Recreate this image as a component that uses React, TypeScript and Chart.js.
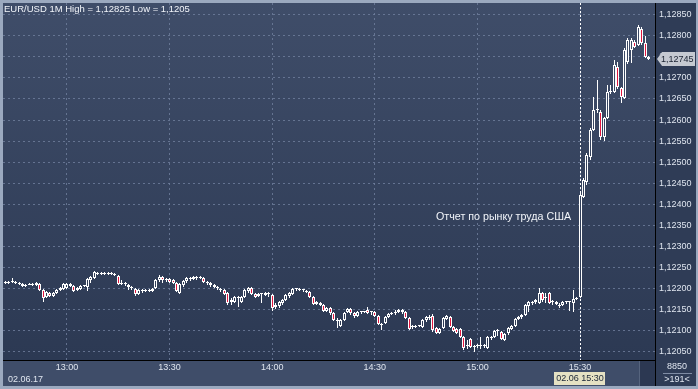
import React, { useEffect, useRef } from "react";
import { Chart, registerables } from "chart.js";

Chart.register(...registerables);

// ---------- data ----------
// minute index of the first bar, counted from 12:00 (12:41)
const firstMinute = 41;

const opens = [
  1.12213, 1.12213, 1.12213, 1.12215, 1.12215, 1.12213, 1.12211, 1.12206, 1.12208, 1.12211,
  1.12208, 1.12211, 1.12196, 1.12180, 1.12189, 1.12182, 1.12189, 1.12196, 1.12199, 1.12201,
  1.12206, 1.12206, 1.12196, 1.12199, 1.12206, 1.12204, 1.12220, 1.12225, 1.12237, 1.12234,
  1.12237, 1.12237, 1.12234, 1.12234, 1.12230, 1.12211, 1.12213, 1.12208, 1.12204, 1.12199,
  1.12187, 1.12196, 1.12194, 1.12196, 1.12194, 1.12201, 1.12220, 1.12227, 1.12220, 1.12223,
  1.12220, 1.12213, 1.12189, 1.12208, 1.12218, 1.12225, 1.12223, 1.12227, 1.12225, 1.12225,
  1.12215, 1.12213, 1.12208, 1.12204, 1.12199, 1.12196, 1.12189, 1.12168, 1.12168, 1.12177,
  1.12168, 1.12180, 1.12194, 1.12201, 1.12187, 1.12182, 1.12187, 1.12185, 1.12187, 1.12185,
  1.12156, 1.12158, 1.12166, 1.12173, 1.12182, 1.12187, 1.12199, 1.12199, 1.12196, 1.12194,
  1.12192, 1.12180, 1.12163, 1.12166, 1.12161, 1.12147, 1.12154, 1.12142, 1.12123, 1.12111,
  1.12125, 1.12144, 1.12151, 1.12142, 1.12135, 1.12144, 1.12144, 1.12149, 1.12144, 1.12144,
  1.12135, 1.12113, 1.12118, 1.12132, 1.12140, 1.12142, 1.12144, 1.12149, 1.12144, 1.12130,
  1.12109, 1.12109, 1.12111, 1.12109, 1.12125, 1.12130, 1.12135, 1.12106, 1.12094, 1.12106,
  1.12128, 1.12132, 1.12109, 1.12104, 1.12104, 1.12085, 1.12066, 1.12080, 1.12064, 1.12064,
  1.12064, 1.12064, 1.12059, 1.12085, 1.12085, 1.12099, 1.12097, 1.12078, 1.12094, 1.12104,
  1.12111, 1.12128, 1.12132, 1.12137, 1.12158, 1.12166, 1.12168, 1.12166, 1.12189, 1.12177,
  1.12189, 1.12168, 1.12168, 1.12161, 1.12161, 1.12168, 1.12168, 1.12166, 1.12175, 1.12180,
  1.12417, 1.12453, 1.12512, 1.12576, 1.12624, 1.12619, 1.12560, 1.12605, 1.12667, 1.12667,
  1.12726, 1.12676, 1.12652, 1.12738, 1.12766, 1.12785, 1.12778, 1.12816, 1.12783, 1.12750,
];

const highs = [
  1.12215, 1.12218, 1.12218, 1.12225, 1.12218, 1.12215, 1.12213, 1.12211, 1.12213, 1.12213,
  1.12215, 1.12213, 1.12199, 1.12194, 1.12192, 1.12192, 1.12199, 1.12204, 1.12213, 1.12213,
  1.12213, 1.12208, 1.12204, 1.12208, 1.12208, 1.12225, 1.12230, 1.12242, 1.12239, 1.12239,
  1.12239, 1.12239, 1.12239, 1.12237, 1.12232, 1.12220, 1.12215, 1.12211, 1.12206, 1.12201,
  1.12199, 1.12199, 1.12199, 1.12199, 1.12201, 1.12223, 1.12232, 1.12230, 1.12225, 1.12225,
  1.12223, 1.12215, 1.12213, 1.12220, 1.12227, 1.12227, 1.12230, 1.12230, 1.12230, 1.12227,
  1.12218, 1.12215, 1.12211, 1.12206, 1.12201, 1.12199, 1.12192, 1.12177, 1.12182, 1.12182,
  1.12182, 1.12199, 1.12204, 1.12204, 1.12189, 1.12189, 1.12189, 1.12192, 1.12192, 1.12187,
  1.12166, 1.12170, 1.12175, 1.12187, 1.12192, 1.12201, 1.12201, 1.12201, 1.12199, 1.12196,
  1.12194, 1.12182, 1.12170, 1.12168, 1.12163, 1.12156, 1.12156, 1.12144, 1.12130, 1.12128,
  1.12144, 1.12154, 1.12154, 1.12144, 1.12147, 1.12147, 1.12147, 1.12156, 1.12147, 1.12147,
  1.12137, 1.12118, 1.12135, 1.12142, 1.12144, 1.12149, 1.12151, 1.12151, 1.12147, 1.12132,
  1.12113, 1.12113, 1.12113, 1.12128, 1.12135, 1.12137, 1.12140, 1.12109, 1.12106, 1.12132,
  1.12137, 1.12135, 1.12111, 1.12106, 1.12106, 1.12087, 1.12078, 1.12083, 1.12066, 1.12068,
  1.12085, 1.12068, 1.12087, 1.12087, 1.12102, 1.12104, 1.12099, 1.12094, 1.12109, 1.12113,
  1.12130, 1.12135, 1.12140, 1.12163, 1.12170, 1.12170, 1.12175, 1.12201, 1.12192, 1.12189,
  1.12192, 1.12173, 1.12170, 1.12166, 1.12170, 1.12170, 1.12170, 1.12196, 1.12180, 1.12427,
  1.12462, 1.12522, 1.12581, 1.12655, 1.12695, 1.12624, 1.12607, 1.12683, 1.12683, 1.12742,
  1.12738, 1.12678, 1.12771, 1.12794, 1.12794, 1.12790, 1.12825, 1.12821, 1.12799, 1.12752,
];

const lows = [
  1.12211, 1.12211, 1.12211, 1.12213, 1.12211, 1.12208, 1.12204, 1.12204, 1.12208, 1.12206,
  1.12206, 1.12194, 1.12168, 1.12177, 1.12180, 1.12180, 1.12187, 1.12194, 1.12196, 1.12199,
  1.12204, 1.12192, 1.12194, 1.12196, 1.12204, 1.12194, 1.12213, 1.12223, 1.12232, 1.12232,
  1.12232, 1.12232, 1.12232, 1.12230, 1.12208, 1.12208, 1.12206, 1.12196, 1.12196, 1.12182,
  1.12185, 1.12189, 1.12192, 1.12192, 1.12192, 1.12199, 1.12215, 1.12213, 1.12215, 1.12213,
  1.12211, 1.12192, 1.12187, 1.12204, 1.12213, 1.12218, 1.12220, 1.12220, 1.12223, 1.12213,
  1.12208, 1.12204, 1.12201, 1.12196, 1.12192, 1.12185, 1.12161, 1.12161, 1.12166, 1.12156,
  1.12166, 1.12177, 1.12189, 1.12185, 1.12177, 1.12180, 1.12166, 1.12182, 1.12180, 1.12147,
  1.12151, 1.12154, 1.12161, 1.12170, 1.12177, 1.12185, 1.12194, 1.12194, 1.12192, 1.12189,
  1.12177, 1.12161, 1.12161, 1.12158, 1.12144, 1.12144, 1.12137, 1.12123, 1.12106, 1.12109,
  1.12123, 1.12142, 1.12137, 1.12130, 1.12132, 1.12140, 1.12142, 1.12140, 1.12137, 1.12132,
  1.12113, 1.12102, 1.12116, 1.12130, 1.12137, 1.12137, 1.12142, 1.12140, 1.12128, 1.12102,
  1.12104, 1.12106, 1.12109, 1.12106, 1.12121, 1.12125, 1.12097, 1.12092, 1.12092, 1.12104,
  1.12125, 1.12106, 1.12097, 1.12092, 1.12083, 1.12054, 1.12056, 1.12059, 1.12050, 1.12059,
  1.12056, 1.12059, 1.12056, 1.12078, 1.12083, 1.12087, 1.12078, 1.12075, 1.12090, 1.12102,
  1.12109, 1.12125, 1.12128, 1.12135, 1.12144, 1.12161, 1.12163, 1.12163, 1.12168, 1.12166,
  1.12163, 1.12161, 1.12161, 1.12154, 1.12158, 1.12163, 1.12147, 1.12144, 1.12173, 1.12177,
  1.12415, 1.12446, 1.12505, 1.12574, 1.12617, 1.12553, 1.12550, 1.12602, 1.12662, 1.12664,
  1.12673, 1.12640, 1.12650, 1.12733, 1.12735, 1.12771, 1.12776, 1.12778, 1.12747, 1.12742,
];

const closes = [
  1.12213, 1.12213, 1.12215, 1.12215, 1.12213, 1.12211, 1.12206, 1.12208, 1.12211, 1.12208,
  1.12213, 1.12196, 1.12177, 1.12192, 1.12182, 1.12189, 1.12196, 1.12201, 1.12211, 1.12211,
  1.12211, 1.12194, 1.12201, 1.12206, 1.12206, 1.12223, 1.12227, 1.12239, 1.12234, 1.12237,
  1.12234, 1.12234, 1.12237, 1.12232, 1.12211, 1.12213, 1.12211, 1.12204, 1.12201, 1.12187,
  1.12196, 1.12194, 1.12196, 1.12194, 1.12199, 1.12220, 1.12227, 1.12220, 1.12223, 1.12215,
  1.12213, 1.12194, 1.12211, 1.12218, 1.12225, 1.12223, 1.12227, 1.12225, 1.12227, 1.12215,
  1.12213, 1.12208, 1.12204, 1.12201, 1.12196, 1.12187, 1.12166, 1.12173, 1.12180, 1.12177,
  1.12180, 1.12196, 1.12201, 1.12187, 1.12180, 1.12187, 1.12187, 1.12189, 1.12187, 1.12154,
  1.12161, 1.12168, 1.12173, 1.12185, 1.12189, 1.12199, 1.12199, 1.12196, 1.12196, 1.12192,
  1.12180, 1.12163, 1.12168, 1.12161, 1.12147, 1.12154, 1.12142, 1.12125, 1.12123, 1.12125,
  1.12142, 1.12151, 1.12142, 1.12135, 1.12144, 1.12144, 1.12144, 1.12142, 1.12144, 1.12135,
  1.12116, 1.12113, 1.12132, 1.12140, 1.12142, 1.12142, 1.12149, 1.12144, 1.12130, 1.12104,
  1.12109, 1.12111, 1.12111, 1.12125, 1.12132, 1.12132, 1.12102, 1.12094, 1.12104, 1.12130,
  1.12135, 1.12109, 1.12099, 1.12094, 1.12085, 1.12059, 1.12064, 1.12061, 1.12061, 1.12064,
  1.12064, 1.12064, 1.12085, 1.12083, 1.12099, 1.12099, 1.12080, 1.12092, 1.12106, 1.12111,
  1.12128, 1.12132, 1.12137, 1.12161, 1.12168, 1.12168, 1.12173, 1.12189, 1.12173, 1.12180,
  1.12166, 1.12168, 1.12163, 1.12158, 1.12168, 1.12168, 1.12168, 1.12175, 1.12177, 1.12422,
  1.12458, 1.12517, 1.12576, 1.12624, 1.12624, 1.12560, 1.12605, 1.12667, 1.12667, 1.12731,
  1.12678, 1.12655, 1.12766, 1.12790, 1.12790, 1.12773, 1.12821, 1.12783, 1.12750, 1.12745,
];

const minutes = opens.map((_, i) => firstMinute + i);

const xTickMinutes = [60, 90, 120, 150, 180, 210];
const xTickLabels = ["13:00", "13:30", "14:00", "14:30", "15:00", "15:30"];
const yTickValues = [
  1.1205, 1.121, 1.1215, 1.122, 1.1225, 1.123, 1.1235, 1.124, 1.1245,
  1.125, 1.1255, 1.126, 1.1265, 1.127, 1.1275, 1.128, 1.1285,
];

const titleText = "EUR/USD 1M High = 1,12825 Low = 1,1205";
const eventText = "Отчет по рынку труда США";
const eventMinute = 210;
const eventTextPrice = 1.12369;
const lastPrice = 1.12745;
const dateLabel = "02.06.17";
const cursorLabel = "02.06 15:30";
const volumeLabel = "8850";
const barsLabel = ">191<";

// ---------- style ----------
const W = 698;
const H = 389;
const FONT = '"Liberation Sans", Arial, sans-serif';
const TEXT = "#dfe5ef";
const PLOT_TOP = "#3f4d69";
const PLOT_BOTTOM = "#2c3953";
const GRID = "rgba(112,128,158,0.8)";
const RED = "#e2173f";

const fmt = (v: number) => v.toFixed(5).replace(".", ",");

export default function App() {
  const ref = useRef<HTMLCanvasElement | null>(null);

  useEffect(() => {
    const canvas = ref.current;
    if (!canvas) return;
    const ctx0 = canvas.getContext("2d")!;
    const bodyFill = ctx0.createLinearGradient(0, 3, 0, 360);
    bodyFill.addColorStop(0, PLOT_TOP);
    bodyFill.addColorStop(1, PLOT_BOTTOM);

    const snapPlugin = {
      id: "snapPlugin",
      afterDatasetsUpdate(chart: any) {
        chart.data.datasets.forEach((_: any, di: number) => {
          const meta = chart.getDatasetMeta(di);
          meta.data.forEach((el: any) => {
            el.x = Math.floor(el.x) + 0.5;
            let top = Math.round(Math.min(el.y, el.base));
            let bot = Math.round(Math.max(el.y, el.base));
            if (bot - top < 1) bot = top + 1;
            el.y = top;
            el.base = bot;
          });
        });
      },
    };

    const bgPlugin = {
      id: "bgPlugin",
      beforeDraw(chart: any) {
        const { ctx, chartArea: a } = chart;
        ctx.save();
        ctx.fillStyle = "#9ba9bf";
        ctx.fillRect(0, 0, W, H);
        const g = ctx.createLinearGradient(0, a.top, 0, a.bottom);
        g.addColorStop(0, PLOT_TOP);
        g.addColorStop(1, PLOT_BOTTOM);
        ctx.fillStyle = g;
        ctx.fillRect(a.left, a.top, a.right - a.left, a.bottom - a.top);
        // bottom time strip
        ctx.fillStyle = "#3f4d69";
        ctx.fillRect(a.left, a.bottom, a.right - a.left, 386 - a.bottom);
        ctx.fillStyle = "#2c3852";
        ctx.fillRect(640, a.bottom, a.right - 640, 386 - a.bottom);
        ctx.fillStyle = "#56647e";
        ctx.fillRect(639, a.bottom + 1, 1, 386 - a.bottom - 1);
        // right price panel
        ctx.fillStyle = "#2f3c56";
        ctx.fillRect(a.right, a.top, 696 - a.right, 386 - a.top);
        ctx.restore();
      },
      beforeDatasetsDraw(chart: any) {
        const { ctx, chartArea: a, scales } = chart;
        const x = Math.floor(scales.x.getPixelForValue(eventMinute)) + 0.5;
        ctx.save();
        ctx.strokeStyle = "#ffffff";
        ctx.lineWidth = 1;
        ctx.setLineDash([2, 2]);
        ctx.beginPath();
        ctx.moveTo(x, a.top);
        ctx.lineTo(x, a.bottom);
        ctx.stroke();
        ctx.restore();
      },
      afterDraw(chart: any) {
        const { ctx, chartArea: a, scales } = chart;
        ctx.save();
        // frame lines
        ctx.fillStyle = "#000000";
        ctx.fillRect(a.left, a.bottom, a.right - a.left, 1);
        ctx.fillRect(a.right, a.top, 1, 386 - a.top);

        // title
        ctx.fillStyle = "#f2f5fa";
        ctx.font = `9.5px ${FONT}`;
        ctx.textAlign = "left";
        ctx.textBaseline = "middle";
        ctx.fillText(titleText, a.left + 1, a.top + 6);

        // event annotation
        const ex = scales.x.getPixelForValue(eventMinute);
        ctx.font = `10.7px ${FONT}`;
        ctx.textAlign = "right";
        ctx.fillStyle = "#f2f5fa";
        ctx.fillText(eventText, ex - 9, scales.y.getPixelForValue(eventTextPrice));

        // last price tag
        const py = Math.round(scales.y.getPixelForValue(lastPrice));
        ctx.fillStyle = "#c5c9d1";
        ctx.beginPath();
        ctx.moveTo(a.right + 2, py);
        ctx.lineTo(a.right + 7, py - 7);
        ctx.lineTo(695, py - 7);
        ctx.lineTo(695, py + 7);
        ctx.lineTo(a.right + 7, py + 7);
        ctx.closePath();
        ctx.fill();
        ctx.fillStyle = "#1a2232";
        ctx.font = `9px ${FONT}`;
        ctx.textAlign = "left";
        ctx.fillText(fmt(lastPrice), a.right + 6, py + 0.5);

        // date on the time strip
        ctx.fillStyle = TEXT;
        ctx.font = `9px ${FONT}`;
        ctx.textAlign = "left";
        ctx.fillText(dateLabel, 8, 380);

        // cursor date box
        const bw = 51;
        ctx.fillStyle = "#e5e1c3";
        ctx.fillRect(Math.round(ex - 26), 372, bw, 13);
        ctx.fillStyle = "#1b2637";
        ctx.textAlign = "center";
        ctx.fillText(cursorLabel, ex, 379);

        // bottom-right info
        ctx.fillStyle = TEXT;
        ctx.fillText(volumeLabel, 677, 367);
        ctx.fillStyle = "#7f8ca4";
        ctx.fillRect(663, 373, 29, 1);
        ctx.fillStyle = TEXT;
        ctx.fillText(barsLabel, 677, 380);
        ctx.restore();
      },
    };

    const chart = new Chart(canvas, {
      type: "bar",
      data: {
        datasets: [
          {
            label: "bodies",
            data: minutes.map((m, i) => ({ x: m, y: [opens[i], closes[i]] })) as any,
            barThickness: 3,
            borderWidth: 1,
            borderColor: "#ffffff",
            borderSkipped: false,
            backgroundColor: (c: any) => {
              const i = c.dataIndex;
              if (i === undefined) return "#ffffff";
              return closes[i] < opens[i] ? RED : bodyFill;
            },
            grouped: false,
            minBarLength: 1,
            inflateAmount: 0,
            order: 0,
          } as any,
          {
            label: "wicks",
            data: minutes.map((m, i) => ({ x: m, y: [lows[i], highs[i]] })) as any,
            barThickness: 1,
            borderWidth: 0,
            backgroundColor: "#ffffff",
            grouped: false,
            minBarLength: 1,
            inflateAmount: 0,
            order: 1,
          } as any,
        ],
      },
      options: {
        animation: false,
        responsive: false,
        maintainAspectRatio: false,
        events: [],
        layout: { padding: { left: 3, top: 3, right: 2, bottom: 3 } },
        plugins: {
          legend: { display: false },
          tooltip: { enabled: false },
          title: { display: false },
        },
        scales: {
          x: {
            type: "linear",
            position: "bottom",
            min: 41.3,
            max: 231.9,
            offset: false,
            afterBuildTicks: (s: any) => {
              s.ticks = xTickMinutes.map((v) => ({ value: v }));
            },
            afterFit: (s: any) => {
              s.height = 26;
              s.paddingLeft = 0;
              s.paddingRight = 0;
              s.paddingTop = 0;
              s.paddingBottom = 0;
            },
            grid: { color: GRID, drawTicks: false, offset: false, lineWidth: 1 },
            border: { display: false, dash: [2, 3] },
            ticks: {
              autoSkip: false,
              maxRotation: 0,
              padding: 2,
              color: TEXT,
              font: { family: FONT, size: 9 },
              callback: (v: any) => {
                const k = xTickMinutes.indexOf(Number(v));
                return k >= 0 ? xTickLabels[k] : "";
              },
            },
          },
          y: {
            type: "linear",
            position: "right",
            min: 1.120303,
            max: 1.128778,
            afterBuildTicks: (s: any) => {
              s.ticks = yTickValues.map((v) => ({ value: v }));
            },
            afterFit: (s: any) => {
              s.width = 41;
              s.paddingLeft = 0;
              s.paddingRight = 0;
              s.paddingTop = 0;
              s.paddingBottom = 0;
            },
            grid: { color: GRID, drawTicks: false, lineWidth: 1 },
            border: { display: false, dash: [2, 3] },
            ticks: {
              autoSkip: false,
              padding: 4,
              color: TEXT,
              font: { family: FONT, size: 9 },
              callback: (v: any) => fmt(Number(v)),
            },
          },
        },
      } as any,
      plugins: [snapPlugin, bgPlugin],
    });

    return () => chart.destroy();
  }, []);

  return (
    <div style={{ position: "fixed", left: 0, top: 0, width: W, height: H }}>
      <canvas ref={ref} width={W} height={H} style={{ display: "block" }} />
    </div>
  );
}
